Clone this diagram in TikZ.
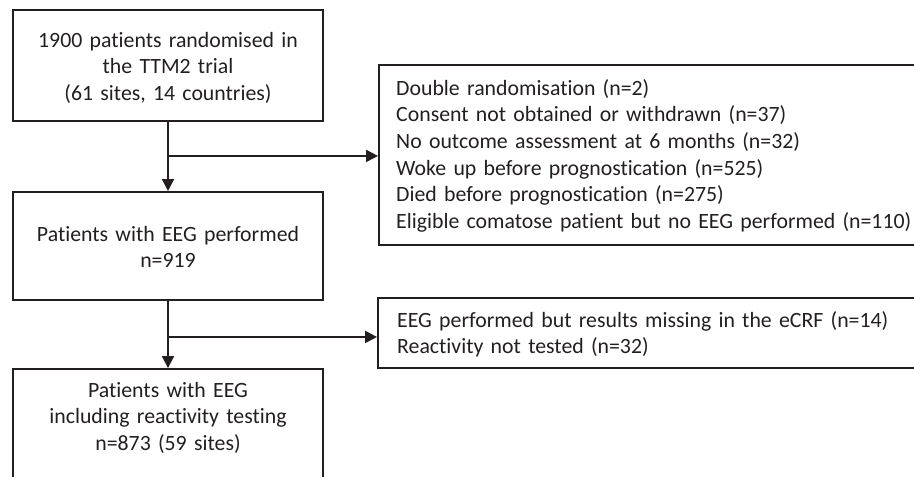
\documentclass[tikz,border=0pt]{standalone}
\usepackage{fontspec}
\setmainfont{Carlito}[Ligatures={NoCommon,NoRequired,NoContextual},Contextuals={NoAlternate}]
\usetikzlibrary{arrows.meta}
\definecolor{ink}{HTML}{231F20}
\begin{document}
\begin{tikzpicture}[x=1pt,y=-1pt,
  box/.style={draw=ink, line width=1.9pt, inner sep=0pt, rectangle},
  txt/.style={inner sep=0pt, text=ink, font=\fontsize{21.8}{26.7}\selectfont},
  ctxt/.style={txt, text width=310pt, align=center, anchor=base},
  ltxt/.style={txt, text width=520pt, align=left, anchor=base west},
  conn/.style={draw=ink, line width=1.9pt},
  arr/.style={conn, -{Triangle[length=12pt,width=12pt]}}]
\useasboundingbox (0,0) rectangle (914,477);
\node[box, minimum width=310pt, minimum height=111pt] (b1) at (168,65.5) {};
\node[box, minimum width=310pt, minimum height=108pt] (b2) at (168,246) {};
\node[box, minimum width=310pt, minimum height=120pt] (b3) at (168,429) {};
\node[box, minimum width=561pt, minimum height=180pt] (rb1) at (659.5,155) {};
\node[box, minimum width=562pt, minimum height=70pt] (rb2) at (659,333) {};
\draw[arr] (b1.south) -- (b2.north);
\path (b1.south) ++(0,34) coordinate (j1);
\draw[arr] (j1) -- (j1 -| rb1.west);
\draw[arr] (b2.south) -- (b3.north);
\path (b2.south) ++(0,36) coordinate (j2);
\draw[arr] (j2) -- (j2 -| rb2.west);
\node[ctxt] (t1) at (168,47) {1900 patients randomised in\\the TTM2 trial\\(61 sites, 14 countries)};
\node[ctxt] (t2) at (168,241) {Patients with EEG performed\\n=919};
\node[ctxt] (t3) at (168,397) {Patients with EEG\\including reactivity testing\\n=873 (59 sites)};
\node[ltxt] (t4) at (396,95) {Double randomisation (n=2)\\Consent not obtained or withdrawn (n=37)\\No outcome assessment at 6 months (n=32)\\Woke up before prognostication (n=525)\\Died before prognostication (n=275)\\Eligible comatose patient but no EEG performed (n=110)};
\node[ltxt] (t5) at (397,327) {EEG performed but results missing in the eCRF (n=14)\\Reactivity not tested (n=32)};
\end{tikzpicture}
\end{document}
